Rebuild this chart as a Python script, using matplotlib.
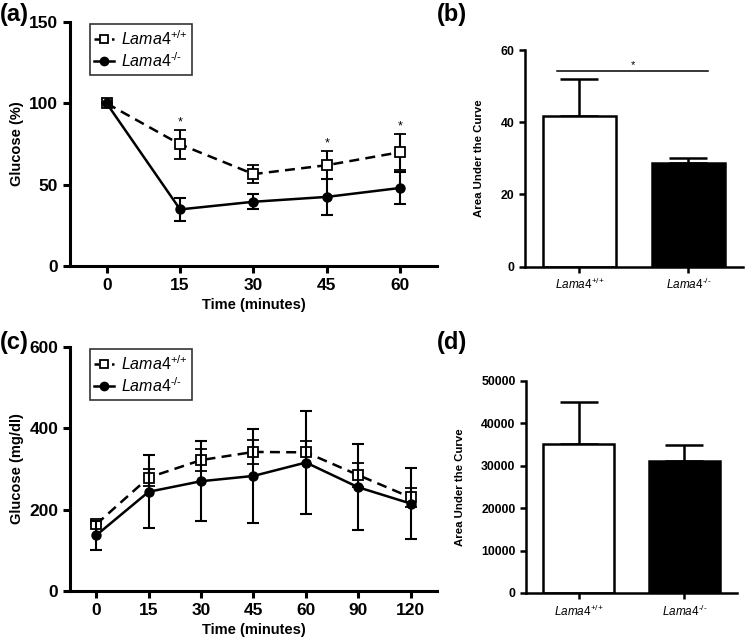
import matplotlib
matplotlib.use("Agg")
import matplotlib.pyplot as plt
from matplotlib.lines import Line2D

plt.rcParams['font.family'] = ['Liberation Sans', 'DejaVu Sans']
plt.rcParams['mathtext.fontset'] = 'custom'
plt.rcParams['mathtext.rm'] = 'Liberation Sans'
plt.rcParams['mathtext.it'] = 'Liberation Sans:italic'
plt.rcParams['mathtext.bf'] = 'Liberation Sans:bold'

# ---- data ----
groups = [r'$\mathit{Lama4}^{\text{+/+}}$', r'$\mathit{Lama4}^{\text{-/-}}$']

# (a) glucose %, insulin tolerance
time_a = ['0', '15', '30', '45', '60']
wt_a = [100, 74.8, 56.5, 62, 70]
wt_a_err = [0, 8.8, 5.7, 8.6, 11]
ko_a = [100, 34.8, 39.5, 42.5, 48]
ko_a_err = [0, 7, 4.5, 11, 10]
stars_a = ['', '*', '', '*', '*']

# (b) AUC of (a)
auc_b = [41.7, 28.7]
auc_b_err = [10.4, 1.5]

# (c) glucose mg/dl
time_c = ['0', '15', '30', '45', '60', '90', '120']
wt_c = [164, 279, 322, 342, 341, 285, 230]
wt_c_err = [0, 20, 27, 30, 28, 29, 24]
ko_c = [137, 244, 270, 283, 316, 255, 215]
ko_c_err = [35, 90, 98, 116, 127, 106, 87]

# (d) AUC of (c)
auc_d = [35200, 31200]
auc_d_err = [9800, 3800]


def style_axes(ax, lw=2.2):
    for s in ['top', 'right']:
        ax.spines[s].set_visible(False)
    for s in ['left', 'bottom']:
        ax.spines[s].set_linewidth(lw)
    ax.tick_params(width=lw, length=5, direction='out')


def line_panel(ax, labels, wt, wt_err, ko, ko_err, ylim, yticks, ylabel):
    x = list(range(len(labels)))
    wt_style = dict(color='black', ls='--', lw=1.8, marker='s', ms=7,
                    mfc='white', mec='black', mew=1.3, dashes=(4, 2.5))
    ko_style = dict(color='black', ls='-', lw=1.8, marker='o', ms=6.5,
                    mfc='black', mec='black')
    ax.errorbar(x, wt, yerr=wt_err, capsize=4.5, capthick=1.5,
                elinewidth=1.5, zorder=3, **wt_style)
    ax.errorbar(x, ko, yerr=ko_err, capsize=4.5, capthick=1.5,
                elinewidth=1.5, zorder=4, **ko_style)
    ax.set_xlim(-0.5, len(labels) - 0.5)
    ax.set_ylim(*ylim)
    ax.set_yticks(yticks)
    ax.set_xticks(x)
    ax.set_xticklabels(labels)
    style_axes(ax)
    for t in ax.get_xticklabels() + ax.get_yticklabels():
        t.set_fontweight('bold')
        t.set_fontsize(12.5)
    ax.set_xlabel('Time (minutes)', fontsize=10.5, fontweight='bold')
    ax.set_ylabel(ylabel, fontsize=10.5, fontweight='bold')
    handles = [
        Line2D([], [], color='black', ls='--', lw=1.8, marker='s', ms=6,
               mfc='white', mec='black', mew=1.3, dashes=(2, 1.5)),
        Line2D([], [], color='black', ls='-', lw=1.8, marker='o', ms=6,
               mfc='black', mec='black'),
    ]
    leg = ax.legend(handles, groups, loc='upper left',
                    bbox_to_anchor=(0.045, 1.005),
                    fontsize=11.5, frameon=True, fancybox=False,
                    edgecolor='black', handlelength=1.2, handletextpad=0.45,
                    borderpad=0.3, labelspacing=0.22, borderaxespad=0.2)
    leg.get_frame().set_linewidth(1.2)
    return x


def bar_panel(ax, vals, errs, ylim, yticks):
    x = [0, 1]
    ax.bar(x, vals, width=0.67, color=['white', 'black'], edgecolor='black',
           linewidth=1.8, zorder=2)
    ax.errorbar(x, vals, yerr=[[0, 0], errs], fmt='none', ecolor='black',
                elinewidth=1.8, capsize=14, capthick=1.8, zorder=1)
    ax.set_xlim(-0.5, 1.5)
    ax.set_ylim(*ylim)
    ax.set_yticks(yticks)
    ax.set_xticks(x)
    ax.set_xticklabels(groups, fontsize=8.5)
    style_axes(ax, lw=1.8)
    ax.tick_params(length=4)
    for t in ax.get_yticklabels():
        t.set_fontweight('bold')
        t.set_fontsize(8.8)
    ax.set_ylabel('Area Under the Curve', fontsize=8.2, fontweight='bold',
                  labelpad=12)


fig = plt.figure(figsize=(7.47, 6.37), dpi=100)
ax_a = fig.add_axes([0.0937, 0.5824, 0.4913, 0.383])
ax_b = fig.add_axes([0.7028, 0.5813, 0.2918, 0.3402])
ax_c = fig.add_axes([0.0937, 0.0722, 0.4913, 0.383])
ax_d = fig.add_axes([0.7041, 0.0691, 0.2825, 0.3328])

xa = line_panel(ax_a, time_a, wt_a, wt_a_err, ko_a, ko_a_err,
                (0, 150), [0, 50, 100, 150], 'Glucose (%)')
for xi, v, e, s in zip(xa, wt_a, wt_a_err, stars_a):
    if s:
        ax_a.text(xi, v + e + 1, s, ha='center', va='bottom', fontsize=9)

line_panel(ax_c, time_c, wt_c, wt_c_err, ko_c, ko_c_err,
           (0, 600), [0, 200, 400, 600], 'Glucose (mg/dl)')

bar_panel(ax_b, auc_b, auc_b_err, (0, 60), [0, 20, 40, 60])
ax_b.plot([-0.21, 1.18], [54.3, 54.3], color='black', lw=1.1)
ax_b.text(0.49, 54.5, '*', ha='center', va='bottom', fontsize=8)

bar_panel(ax_d, auc_d, auc_d_err, (0, 50000),
          [0, 10000, 20000, 30000, 40000, 50000])

for lbl, (px, py) in zip(['(a)', '(b)', '(c)', '(d)'],
                         [(0.0, 0.995), (0.585, 0.995), (0.0, 0.48), (0.585, 0.48)]):
    fig.text(px, py, lbl, fontsize=17, fontweight='bold', va='top', ha='left')

fig.savefig('out.png', dpi=100)
